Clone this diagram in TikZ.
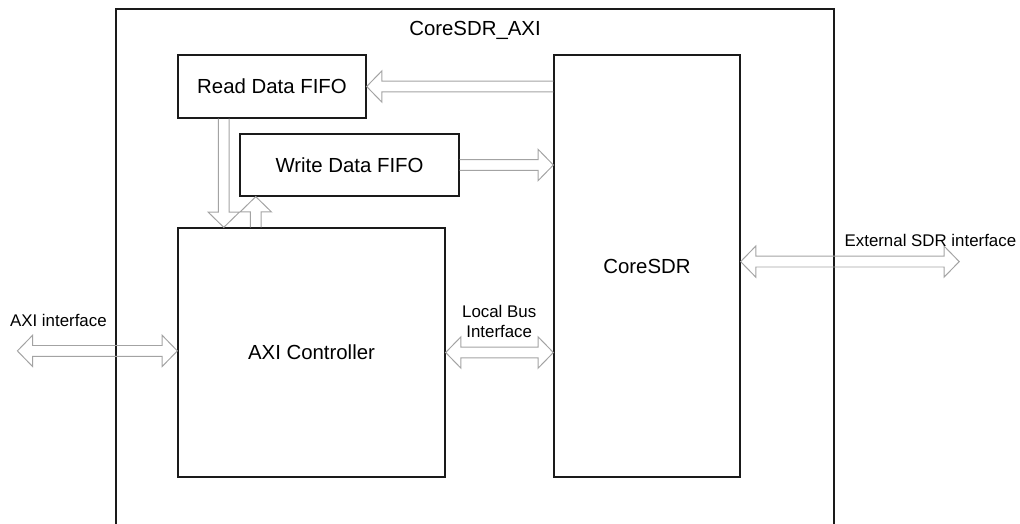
\documentclass[tikz,border=0pt]{standalone}
\usepackage{fontspec}
\setmainfont{Liberation Sans}
\usetikzlibrary{positioning,calc}
\definecolor{frameBlack}{HTML}{1A1A1A}
\definecolor{arrowGray}{HTML}{A3A3A3}
\newcommand{\shaftw}{0.135cm}
\newcommand{\headw}{0.39cm}
\newcommand{\headl}{0.38cm}
\newcommand{\hollowarrow}[2]{%
    \coordinate (hA) at ($(#2)!\headl!(#1)$);
    \draw[hollow] ($(#1)!\shaftw!90:(#2)$) -- ($(hA)!\shaftw!90:(#2)$)
        -- ($(hA)!\headw!90:(#2)$) -- (#2) -- ($(hA)!\headw!-90:(#2)$)
        -- ($(hA)!\shaftw!-90:(#2)$) -- ($(#1)!\shaftw!-90:(#2)$);}
\newcommand{\hollowdouble}[2]{%
    \coordinate (hA) at ($(#2)!\headl!(#1)$);
    \coordinate (hB) at ($(#1)!\headl!(#2)$);
    \draw[hollow] (#1) -- ($(hB)!\headw!90:(#2)$) -- ($(hB)!\shaftw!90:(#2)$)
        -- ($(hA)!\shaftw!90:(#2)$) -- ($(hA)!\headw!90:(#2)$) -- (#2)
        -- ($(hA)!\headw!-90:(#2)$) -- ($(hA)!\shaftw!-90:(#2)$)
        -- ($(hB)!\shaftw!-90:(#2)$) -- ($(hB)!\headw!-90:(#2)$) -- cycle;}
\tikzset{
    block/.style={draw=frameBlack,line width=0.9pt,align=center,
        font=\fontsize{14.5}{17}\selectfont},
    hollow/.style={draw=arrowGray,line width=0.7pt,line join=miter},
    lbl/.style={align=center,inner sep=0pt,font=\fontsize{12}{13.9}\selectfont},
    framelabel/.style={inner sep=0pt,font=\fontsize{14.5}{17}\selectfont}
}
\begin{document}
\begin{tikzpicture}
    \useasboundingbox (0,0) rectangle (25.5,-13.075);

    \draw[frameBlack,line width=0.9pt] (2.90,-13.3) |- (20.85,-0.225) -- (20.85,-13.3);
    \node[framelabel,anchor=base] (title) at (11.875,-0.875) {CoreSDR\_AXI};

    \node[block,minimum width=4.70cm,minimum height=1.575cm] (rd) at (6.80,-2.1625)
        {Read Data FIFO};
    \node[block,minimum width=5.475cm,minimum height=1.55cm] (wr) at (8.7375,-4.125)
        {Write Data FIFO};
    \node[block,minimum width=6.675cm,minimum height=6.225cm] (axi) at (7.7875,-8.8125)
        {AXI Controller};
    \node[block,minimum width=4.65cm,minimum height=10.55cm] (core) at (16.175,-6.65)
        {CoreSDR};

    \coordinate (rdIn) at (rd.east -| core.west);
    \hollowarrow{rdIn}{rd.east}
    \coordinate (wrOut) at (wr.east -| core.west);
    \hollowarrow{wr.east}{wrOut}

    \coordinate (rdDown) at ($(rd.south west)+(1.16,0)$);
    \coordinate (axiIn) at (rdDown |- axi.north);
    \hollowarrow{rdDown}{axiIn}
    \coordinate (wrUp) at ($(wr.south west)+(0.41,0)$);
    \coordinate (axiOut) at (wrUp |- axi.north);
    \hollowarrow{axiOut}{wrUp}

    \coordinate (axiExt) at ($(axi.west)+(-4.0,0.04)$);
    \coordinate (axiPort) at (axiExt -| axi.west);
    \hollowdouble{axiExt}{axiPort}
    \node[lbl,anchor=base] (axilbl) at (1.46,-8.17) {AXI interface};

    \coordinate (busIn) at (axi.east -| core.west);
    \hollowdouble{axi.east}{busIn}
    \node[lbl] (buslbl) at (12.48,-8.03) {Local Bus\\Interface};

    \coordinate (sdrExt) at (23.98,-6.54);
    \coordinate (sdrPort) at (sdrExt -| core.east);
    \hollowdouble{sdrPort}{sdrExt}
    \node[lbl,anchor=base] (sdrlbl) at (23.26,-6.15) {External SDR interface};
\end{tikzpicture}
\end{document}
